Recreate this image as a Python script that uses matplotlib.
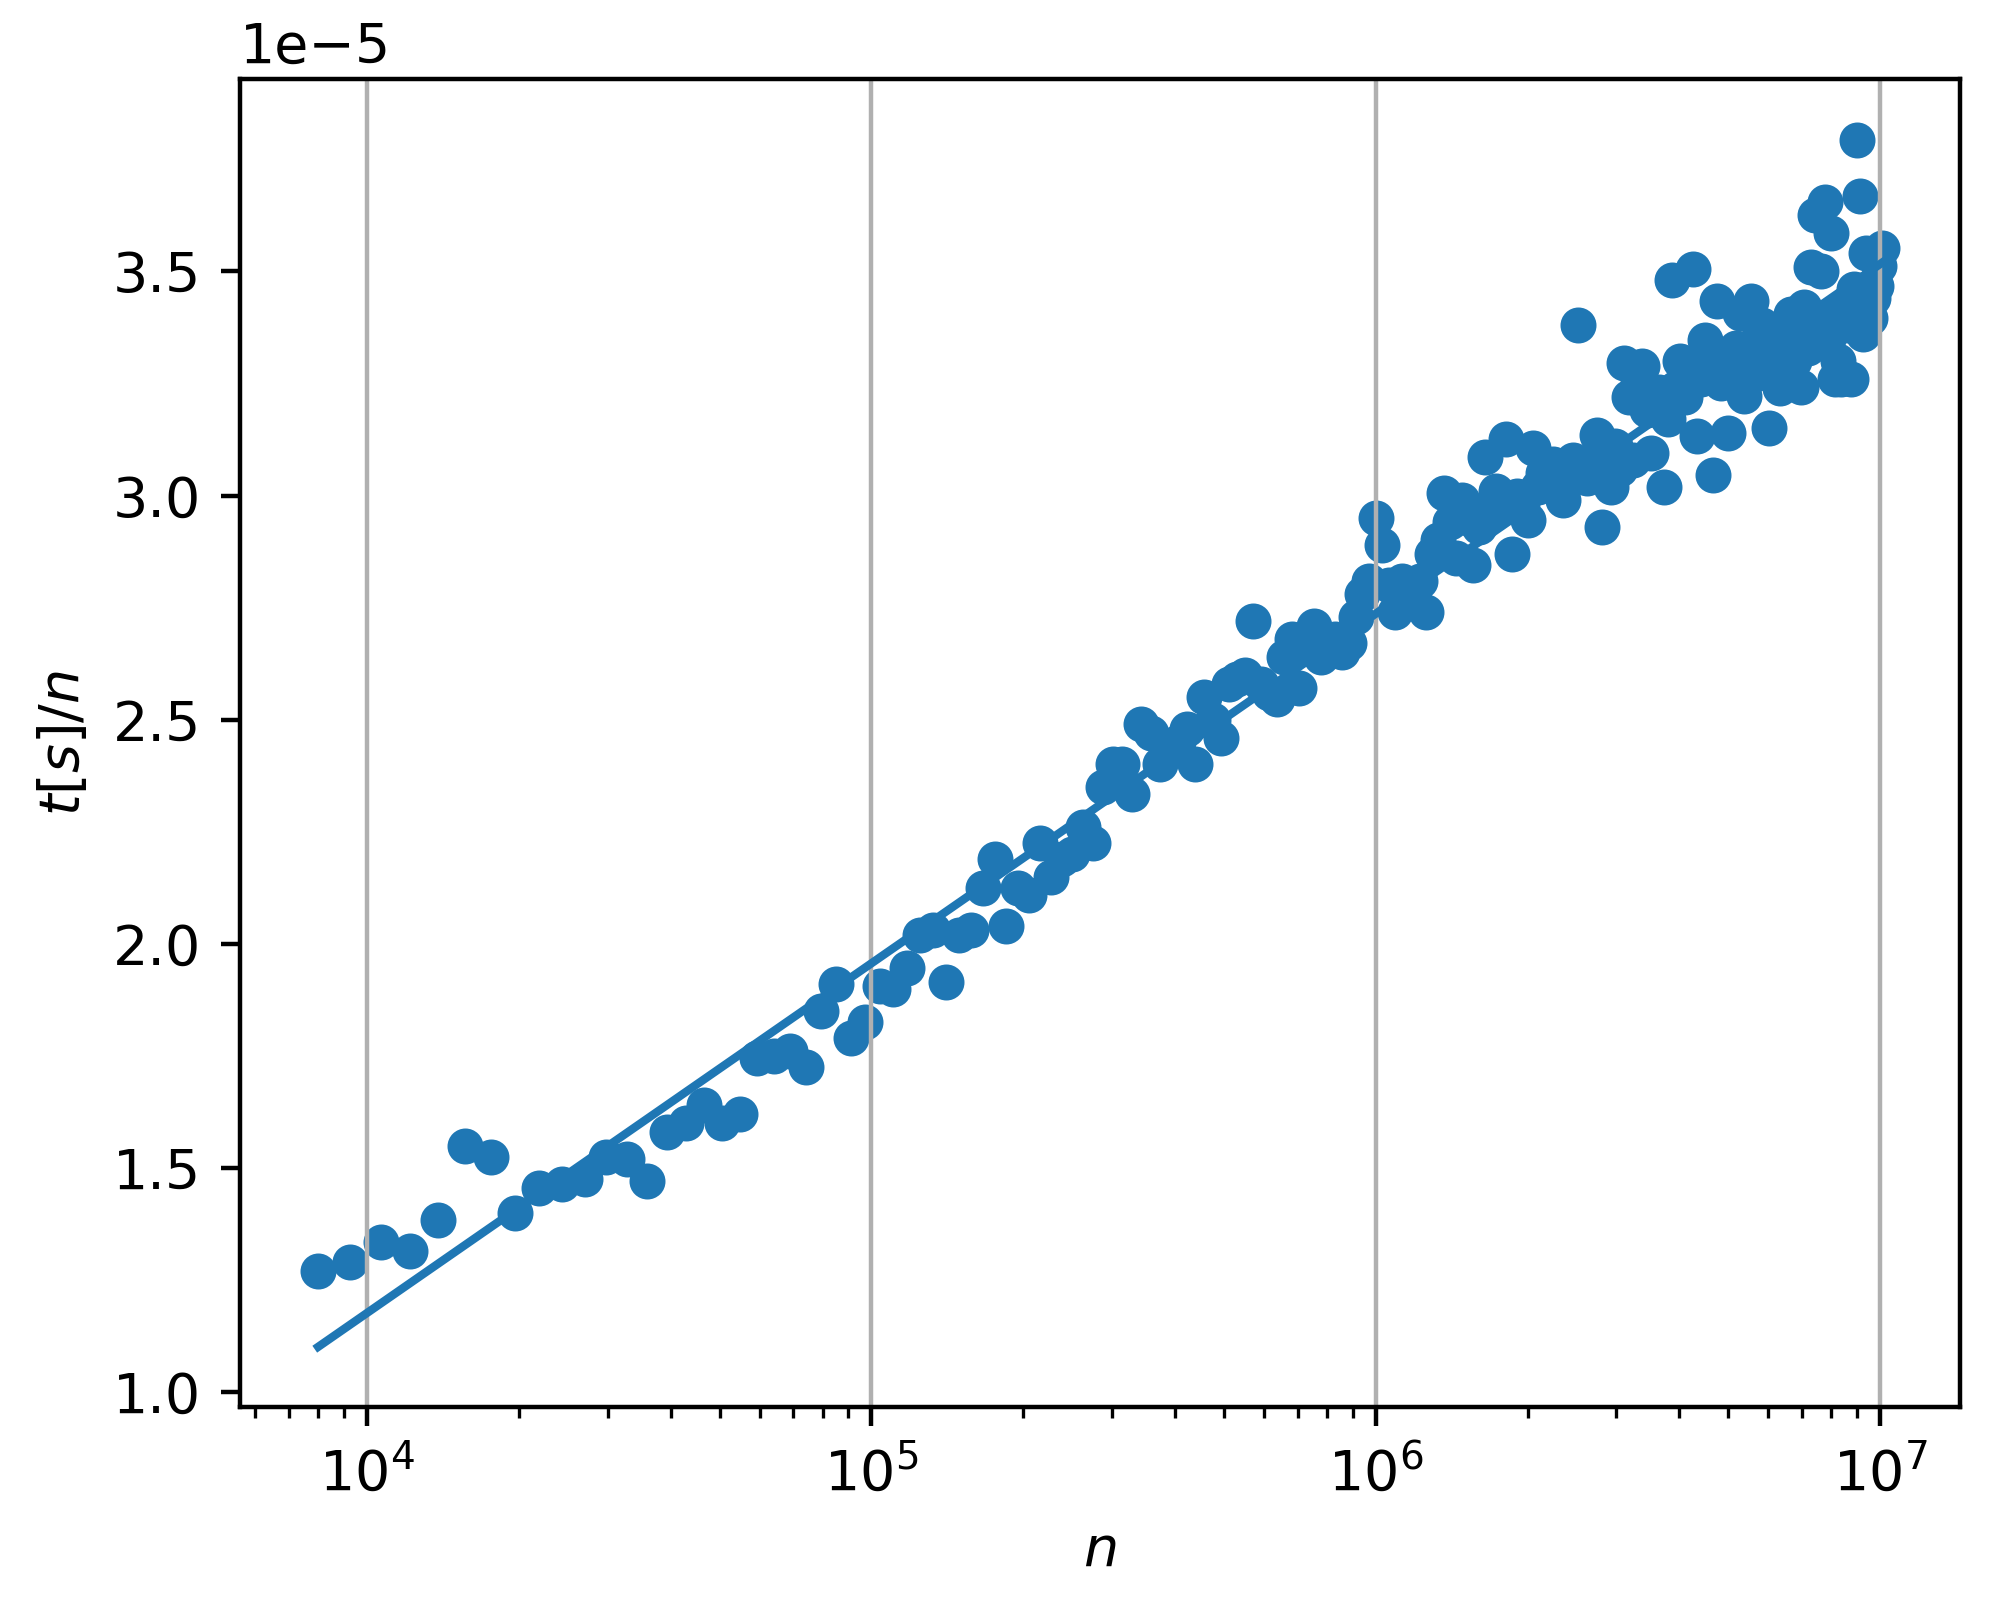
import numpy as np
import matplotlib
matplotlib.use("Agg")
from matplotlib import pyplot as plt

# problem sizes n = k^3
k = np.arange(20, 217)
n = k**3

# measured t/n in units of 1e-5 s, one per n
t_per_n = [
    1.27, 1.29, 1.335, 1.315, 1.385, 1.55, 1.525, 1.40, 1.455, 1.465,      # 20-29
    1.475, 1.525, 1.52, 1.47, 1.58, 1.60, 1.64, 1.60, 1.62, 1.745,         # 30-39
    1.75, 1.76, 1.725, 1.85, 1.91, 1.79, 1.825, 1.905, 1.90, 1.945,        # 40-49
    2.02, 2.03, 1.915, 2.02, 2.03, 2.125, 2.19, 2.04, 2.125, 2.11,         # 50-59
    2.225, 2.15, 2.19, 2.20, 2.26, 2.225, 2.35, 2.40, 2.40, 2.335,         # 60-69
    2.49, 2.47, 2.40, 2.43, 2.45, 2.48, 2.40, 2.55, 2.50, 2.46,            # 70-79
    2.58, 2.59, 2.60, 2.72, 2.58, 2.56, 2.545, 2.64, 2.68, 2.57,           # 80-89
    2.66, 2.71, 2.64, 2.66, 2.68, 2.65, 2.67, 2.73, 2.78, 2.81,            # 90-99
    2.95, 2.89, 2.80, 2.74, 2.81, 2.77, 2.79, 2.81, 2.74, 2.87,            # 100-109
    2.90, 3.005, 2.94, 2.86, 2.99, 2.95, 2.845, 2.93, 3.085, 2.97,         # 110-119
    3.01, 2.98, 3.125, 2.87, 3.00, 2.98, 2.945, 3.105, 3.02, 3.05,         # 120-129
    3.03, 3.07, 3.04, 2.99, 3.06, 3.08, 3.38, 3.05, 3.04, 3.07,            # 130-139
    3.135, 2.93, 3.065, 3.02, 3.11, 3.06, 3.295, 3.22, 3.08, 3.26,         # 140-149
    3.29, 3.19, 3.095, 3.20, 3.23, 3.02, 3.17, 3.48, 3.24, 3.30,           # 150-159
    3.22, 3.273, 3.505, 3.132, 3.26, 3.348, 3.30, 3.046, 3.433, 3.25,      # 160-169
    3.31, 3.139, 3.28, 3.33, 3.408, 3.221, 3.30, 3.433, 3.27, 3.35,        # 170-179
    3.38, 3.30, 3.15, 3.288, 3.31, 3.24, 3.33, 3.37, 3.405, 3.30,          # 180-189
    3.36, 3.243, 3.42, 3.33, 3.51, 3.625, 3.39, 3.50, 3.655, 3.35,         # 190-199
    3.586, 3.26, 3.30, 3.26, 3.42, 3.38, 3.26, 3.46, 3.794, 3.667,         # 200-209
    3.36, 3.541, 3.396, 3.44, 3.467, 3.511, 3.552,                         # 210-216
]
t_per_n = np.array(t_per_n)*1e-5

# n log n fit, end points
fit_n = [20**3, 216**3]
fit_y = np.array([1.101, 3.519])*1e-5

fig = plt.figure(figsize=(5, 4), dpi=400)
plt.scatter(n, t_per_n, s=30)
plt.plot(fit_n, fit_y)
plt.xscale('log')
plt.grid(axis='x')
plt.xlabel('$n$')
plt.ylabel('$t[s]/n$')
plt.subplots_adjust(left=0.12, right=0.98, top=0.9505, bottom=0.1205)
plt.savefig('out.png')
